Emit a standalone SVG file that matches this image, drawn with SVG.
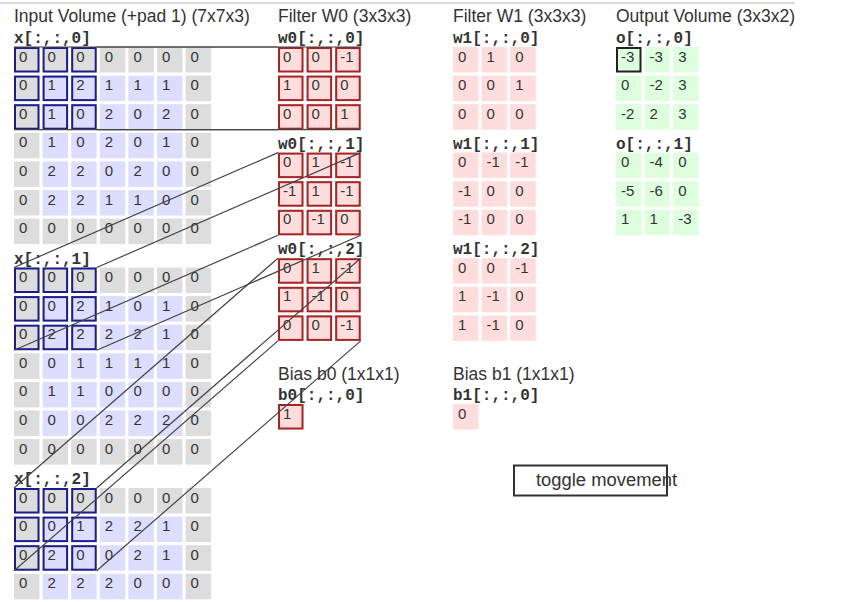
<svg xmlns="http://www.w3.org/2000/svg" width="860" height="602" viewBox="0 0 860 602">
<style>
text{font-family:"Liberation Sans",Arial,sans-serif;fill:#333}
.t{font-size:17.5px}
.l{font-family:"Liberation Mono","Courier New",monospace;font-size:16px;font-weight:bold;fill:#333}
.n{font-size:15px}
.p{fill:#ddd}
.i{fill:#ddf}
.f{fill:#fdd}
.o{fill:#dfd}
.hi{fill:none;stroke:#1c1c8a;stroke-width:2}
.hf{fill:none;stroke:#a52424;stroke-width:2}
.ho{fill:none;stroke:#222;stroke-width:2}
.cn line{stroke:#444;stroke-width:1.2}
</style>
<line x1="0" y1="3" x2="795" y2="3" stroke="#ccc" stroke-width="1.5"/>
<g id="titles">
<text class="t" x="14" y="22">Input Volume (+pad 1) (7x7x3)</text>
<text class="t" x="278" y="22">Filter W0 (3x3x3)</text>
<text class="t" x="453" y="22">Filter W1 (3x3x3)</text>
<text class="t" x="616" y="22">Output Volume (3x3x2)</text>
</g>

<g id="x0">
<text class="l" x="14" y="43">x[:,:,0]</text>
<g transform="translate(0,47)"><rect class="p" x="14" width="25.5" height="25.5"/><rect class="p" x="42.6" width="25.5" height="25.5"/><rect class="p" x="71.2" width="25.5" height="25.5"/><rect class="p" x="99.8" width="25.5" height="25.5"/><rect class="p" x="128.4" width="25.5" height="25.5"/><rect class="p" x="157" width="25.5" height="25.5"/><rect class="p" x="185.6" width="25.5" height="25.5"/>
<text class="n" x="19" y="14.5">0</text><text class="n" x="47.6" y="14.5">0</text><text class="n" x="76.2" y="14.5">0</text><text class="n" x="104.8" y="14.5">0</text><text class="n" x="133.4" y="14.5">0</text><text class="n" x="162" y="14.5">0</text><text class="n" x="190.6" y="14.5">0</text></g>
<g transform="translate(0,75.6)"><rect class="p" x="14" width="25.5" height="25.5"/><rect class="i" x="42.6" width="25.5" height="25.5"/><rect class="i" x="71.2" width="25.5" height="25.5"/><rect class="i" x="99.8" width="25.5" height="25.5"/><rect class="i" x="128.4" width="25.5" height="25.5"/><rect class="i" x="157" width="25.5" height="25.5"/><rect class="p" x="185.6" width="25.5" height="25.5"/>
<text class="n" x="19" y="14.5">0</text><text class="n" x="47.6" y="14.5">1</text><text class="n" x="76.2" y="14.5">2</text><text class="n" x="104.8" y="14.5">1</text><text class="n" x="133.4" y="14.5">1</text><text class="n" x="162" y="14.5">1</text><text class="n" x="190.6" y="14.5">0</text></g>
<g transform="translate(0,104.2)"><rect class="p" x="14" width="25.5" height="25.5"/><rect class="i" x="42.6" width="25.5" height="25.5"/><rect class="i" x="71.2" width="25.5" height="25.5"/><rect class="i" x="99.8" width="25.5" height="25.5"/><rect class="i" x="128.4" width="25.5" height="25.5"/><rect class="i" x="157" width="25.5" height="25.5"/><rect class="p" x="185.6" width="25.5" height="25.5"/>
<text class="n" x="19" y="14.5">0</text><text class="n" x="47.6" y="14.5">1</text><text class="n" x="76.2" y="14.5">0</text><text class="n" x="104.8" y="14.5">2</text><text class="n" x="133.4" y="14.5">0</text><text class="n" x="162" y="14.5">2</text><text class="n" x="190.6" y="14.5">0</text></g>
<g transform="translate(0,132.8)"><rect class="p" x="14" width="25.5" height="25.5"/><rect class="i" x="42.6" width="25.5" height="25.5"/><rect class="i" x="71.2" width="25.5" height="25.5"/><rect class="i" x="99.8" width="25.5" height="25.5"/><rect class="i" x="128.4" width="25.5" height="25.5"/><rect class="i" x="157" width="25.5" height="25.5"/><rect class="p" x="185.6" width="25.5" height="25.5"/>
<text class="n" x="19" y="14.5">0</text><text class="n" x="47.6" y="14.5">1</text><text class="n" x="76.2" y="14.5">0</text><text class="n" x="104.8" y="14.5">2</text><text class="n" x="133.4" y="14.5">0</text><text class="n" x="162" y="14.5">1</text><text class="n" x="190.6" y="14.5">0</text></g>
<g transform="translate(0,161.4)"><rect class="p" x="14" width="25.5" height="25.5"/><rect class="i" x="42.6" width="25.5" height="25.5"/><rect class="i" x="71.2" width="25.5" height="25.5"/><rect class="i" x="99.8" width="25.5" height="25.5"/><rect class="i" x="128.4" width="25.5" height="25.5"/><rect class="i" x="157" width="25.5" height="25.5"/><rect class="p" x="185.6" width="25.5" height="25.5"/>
<text class="n" x="19" y="14.5">0</text><text class="n" x="47.6" y="14.5">2</text><text class="n" x="76.2" y="14.5">2</text><text class="n" x="104.8" y="14.5">0</text><text class="n" x="133.4" y="14.5">2</text><text class="n" x="162" y="14.5">0</text><text class="n" x="190.6" y="14.5">0</text></g>
<g transform="translate(0,190)"><rect class="p" x="14" width="25.5" height="25.5"/><rect class="i" x="42.6" width="25.5" height="25.5"/><rect class="i" x="71.2" width="25.5" height="25.5"/><rect class="i" x="99.8" width="25.5" height="25.5"/><rect class="i" x="128.4" width="25.5" height="25.5"/><rect class="i" x="157" width="25.5" height="25.5"/><rect class="p" x="185.6" width="25.5" height="25.5"/>
<text class="n" x="19" y="14.5">0</text><text class="n" x="47.6" y="14.5">2</text><text class="n" x="76.2" y="14.5">2</text><text class="n" x="104.8" y="14.5">1</text><text class="n" x="133.4" y="14.5">1</text><text class="n" x="162" y="14.5">0</text><text class="n" x="190.6" y="14.5">0</text></g>
<g transform="translate(0,218.6)"><rect class="p" x="14" width="25.5" height="25.5"/><rect class="p" x="42.6" width="25.5" height="25.5"/><rect class="p" x="71.2" width="25.5" height="25.5"/><rect class="p" x="99.8" width="25.5" height="25.5"/><rect class="p" x="128.4" width="25.5" height="25.5"/><rect class="p" x="157" width="25.5" height="25.5"/><rect class="p" x="185.6" width="25.5" height="25.5"/>
<text class="n" x="19" y="14.5">0</text><text class="n" x="47.6" y="14.5">0</text><text class="n" x="76.2" y="14.5">0</text><text class="n" x="104.8" y="14.5">0</text><text class="n" x="133.4" y="14.5">0</text><text class="n" x="162" y="14.5">0</text><text class="n" x="190.6" y="14.5">0</text></g>
<g transform="translate(0,47)"><rect class="hi" x="15" y="1" width="23.5" height="23.5"/><rect class="hi" x="43.6" y="1" width="23.5" height="23.5"/><rect class="hi" x="72.2" y="1" width="23.5" height="23.5"/><rect class="hi" x="15" y="29.6" width="23.5" height="23.5"/><rect class="hi" x="43.6" y="29.6" width="23.5" height="23.5"/><rect class="hi" x="72.2" y="29.6" width="23.5" height="23.5"/><rect class="hi" x="15" y="58.2" width="23.5" height="23.5"/><rect class="hi" x="43.6" y="58.2" width="23.5" height="23.5"/><rect class="hi" x="72.2" y="58.2" width="23.5" height="23.5"/></g>
</g>

<g id="x1">
<text class="l" x="14" y="263.5">x[:,:,1]</text>
<g transform="translate(0,267.5)"><rect class="p" x="14" width="25.5" height="25.5"/><rect class="p" x="42.6" width="25.5" height="25.5"/><rect class="p" x="71.2" width="25.5" height="25.5"/><rect class="p" x="99.8" width="25.5" height="25.5"/><rect class="p" x="128.4" width="25.5" height="25.5"/><rect class="p" x="157" width="25.5" height="25.5"/><rect class="p" x="185.6" width="25.5" height="25.5"/>
<text class="n" x="19" y="14.5">0</text><text class="n" x="47.6" y="14.5">0</text><text class="n" x="76.2" y="14.5">0</text><text class="n" x="104.8" y="14.5">0</text><text class="n" x="133.4" y="14.5">0</text><text class="n" x="162" y="14.5">0</text><text class="n" x="190.6" y="14.5">0</text></g>
<g transform="translate(0,296.1)"><rect class="p" x="14" width="25.5" height="25.5"/><rect class="i" x="42.6" width="25.5" height="25.5"/><rect class="i" x="71.2" width="25.5" height="25.5"/><rect class="i" x="99.8" width="25.5" height="25.5"/><rect class="i" x="128.4" width="25.5" height="25.5"/><rect class="i" x="157" width="25.5" height="25.5"/><rect class="p" x="185.6" width="25.5" height="25.5"/>
<text class="n" x="19" y="14.5">0</text><text class="n" x="47.6" y="14.5">0</text><text class="n" x="76.2" y="14.5">2</text><text class="n" x="104.8" y="14.5">1</text><text class="n" x="133.4" y="14.5">0</text><text class="n" x="162" y="14.5">1</text><text class="n" x="190.6" y="14.5">0</text></g>
<g transform="translate(0,324.7)"><rect class="p" x="14" width="25.5" height="25.5"/><rect class="i" x="42.6" width="25.5" height="25.5"/><rect class="i" x="71.2" width="25.5" height="25.5"/><rect class="i" x="99.8" width="25.5" height="25.5"/><rect class="i" x="128.4" width="25.5" height="25.5"/><rect class="i" x="157" width="25.5" height="25.5"/><rect class="p" x="185.6" width="25.5" height="25.5"/>
<text class="n" x="19" y="14.5">0</text><text class="n" x="47.6" y="14.5">2</text><text class="n" x="76.2" y="14.5">2</text><text class="n" x="104.8" y="14.5">2</text><text class="n" x="133.4" y="14.5">2</text><text class="n" x="162" y="14.5">1</text><text class="n" x="190.6" y="14.5">0</text></g>
<g transform="translate(0,353.3)"><rect class="p" x="14" width="25.5" height="25.5"/><rect class="i" x="42.6" width="25.5" height="25.5"/><rect class="i" x="71.2" width="25.5" height="25.5"/><rect class="i" x="99.8" width="25.5" height="25.5"/><rect class="i" x="128.4" width="25.5" height="25.5"/><rect class="i" x="157" width="25.5" height="25.5"/><rect class="p" x="185.6" width="25.5" height="25.5"/>
<text class="n" x="19" y="14.5">0</text><text class="n" x="47.6" y="14.5">0</text><text class="n" x="76.2" y="14.5">1</text><text class="n" x="104.8" y="14.5">1</text><text class="n" x="133.4" y="14.5">1</text><text class="n" x="162" y="14.5">1</text><text class="n" x="190.6" y="14.5">0</text></g>
<g transform="translate(0,381.9)"><rect class="p" x="14" width="25.5" height="25.5"/><rect class="i" x="42.6" width="25.5" height="25.5"/><rect class="i" x="71.2" width="25.5" height="25.5"/><rect class="i" x="99.8" width="25.5" height="25.5"/><rect class="i" x="128.4" width="25.5" height="25.5"/><rect class="i" x="157" width="25.5" height="25.5"/><rect class="p" x="185.6" width="25.5" height="25.5"/>
<text class="n" x="19" y="14.5">0</text><text class="n" x="47.6" y="14.5">1</text><text class="n" x="76.2" y="14.5">1</text><text class="n" x="104.8" y="14.5">0</text><text class="n" x="133.4" y="14.5">0</text><text class="n" x="162" y="14.5">0</text><text class="n" x="190.6" y="14.5">0</text></g>
<g transform="translate(0,410.5)"><rect class="p" x="14" width="25.5" height="25.5"/><rect class="i" x="42.6" width="25.5" height="25.5"/><rect class="i" x="71.2" width="25.5" height="25.5"/><rect class="i" x="99.8" width="25.5" height="25.5"/><rect class="i" x="128.4" width="25.5" height="25.5"/><rect class="i" x="157" width="25.5" height="25.5"/><rect class="p" x="185.6" width="25.5" height="25.5"/>
<text class="n" x="19" y="14.5">0</text><text class="n" x="47.6" y="14.5">0</text><text class="n" x="76.2" y="14.5">0</text><text class="n" x="104.8" y="14.5">2</text><text class="n" x="133.4" y="14.5">2</text><text class="n" x="162" y="14.5">2</text><text class="n" x="190.6" y="14.5">0</text></g>
<g transform="translate(0,439.1)"><rect class="p" x="14" width="25.5" height="25.5"/><rect class="p" x="42.6" width="25.5" height="25.5"/><rect class="p" x="71.2" width="25.5" height="25.5"/><rect class="p" x="99.8" width="25.5" height="25.5"/><rect class="p" x="128.4" width="25.5" height="25.5"/><rect class="p" x="157" width="25.5" height="25.5"/><rect class="p" x="185.6" width="25.5" height="25.5"/>
<text class="n" x="19" y="14.5">0</text><text class="n" x="47.6" y="14.5">0</text><text class="n" x="76.2" y="14.5">0</text><text class="n" x="104.8" y="14.5">0</text><text class="n" x="133.4" y="14.5">0</text><text class="n" x="162" y="14.5">0</text><text class="n" x="190.6" y="14.5">0</text></g>
<g transform="translate(0,267.5)"><rect class="hi" x="15" y="1" width="23.5" height="23.5"/><rect class="hi" x="43.6" y="1" width="23.5" height="23.5"/><rect class="hi" x="72.2" y="1" width="23.5" height="23.5"/><rect class="hi" x="15" y="29.6" width="23.5" height="23.5"/><rect class="hi" x="43.6" y="29.6" width="23.5" height="23.5"/><rect class="hi" x="72.2" y="29.6" width="23.5" height="23.5"/><rect class="hi" x="15" y="58.2" width="23.5" height="23.5"/><rect class="hi" x="43.6" y="58.2" width="23.5" height="23.5"/><rect class="hi" x="72.2" y="58.2" width="23.5" height="23.5"/></g>
</g>

<g id="x2">
<text class="l" x="14" y="484">x[:,:,2]</text>
<g transform="translate(0,488)"><rect class="p" x="14" width="25.5" height="25.5"/><rect class="p" x="42.6" width="25.5" height="25.5"/><rect class="p" x="71.2" width="25.5" height="25.5"/><rect class="p" x="99.8" width="25.5" height="25.5"/><rect class="p" x="128.4" width="25.5" height="25.5"/><rect class="p" x="157" width="25.5" height="25.5"/><rect class="p" x="185.6" width="25.5" height="25.5"/>
<text class="n" x="19" y="14.5">0</text><text class="n" x="47.6" y="14.5">0</text><text class="n" x="76.2" y="14.5">0</text><text class="n" x="104.8" y="14.5">0</text><text class="n" x="133.4" y="14.5">0</text><text class="n" x="162" y="14.5">0</text><text class="n" x="190.6" y="14.5">0</text></g>
<g transform="translate(0,516.6)"><rect class="p" x="14" width="25.5" height="25.5"/><rect class="i" x="42.6" width="25.5" height="25.5"/><rect class="i" x="71.2" width="25.5" height="25.5"/><rect class="i" x="99.8" width="25.5" height="25.5"/><rect class="i" x="128.4" width="25.5" height="25.5"/><rect class="i" x="157" width="25.5" height="25.5"/><rect class="p" x="185.6" width="25.5" height="25.5"/>
<text class="n" x="19" y="14.5">0</text><text class="n" x="47.6" y="14.5">0</text><text class="n" x="76.2" y="14.5">1</text><text class="n" x="104.8" y="14.5">2</text><text class="n" x="133.4" y="14.5">2</text><text class="n" x="162" y="14.5">1</text><text class="n" x="190.6" y="14.5">0</text></g>
<g transform="translate(0,545.2)"><rect class="p" x="14" width="25.5" height="25.5"/><rect class="i" x="42.6" width="25.5" height="25.5"/><rect class="i" x="71.2" width="25.5" height="25.5"/><rect class="i" x="99.8" width="25.5" height="25.5"/><rect class="i" x="128.4" width="25.5" height="25.5"/><rect class="i" x="157" width="25.5" height="25.5"/><rect class="p" x="185.6" width="25.5" height="25.5"/>
<text class="n" x="19" y="14.5">0</text><text class="n" x="47.6" y="14.5">2</text><text class="n" x="76.2" y="14.5">0</text><text class="n" x="104.8" y="14.5">0</text><text class="n" x="133.4" y="14.5">2</text><text class="n" x="162" y="14.5">1</text><text class="n" x="190.6" y="14.5">0</text></g>
<g transform="translate(0,573.8)"><rect class="p" x="14" width="25.5" height="25.5"/><rect class="i" x="42.6" width="25.5" height="25.5"/><rect class="i" x="71.2" width="25.5" height="25.5"/><rect class="i" x="99.8" width="25.5" height="25.5"/><rect class="i" x="128.4" width="25.5" height="25.5"/><rect class="i" x="157" width="25.5" height="25.5"/><rect class="p" x="185.6" width="25.5" height="25.5"/>
<text class="n" x="19" y="14.5">0</text><text class="n" x="47.6" y="14.5">2</text><text class="n" x="76.2" y="14.5">2</text><text class="n" x="104.8" y="14.5">2</text><text class="n" x="133.4" y="14.5">0</text><text class="n" x="162" y="14.5">0</text><text class="n" x="190.6" y="14.5">0</text></g>
<g transform="translate(0,488)"><rect class="hi" x="15" y="1" width="23.5" height="23.5"/><rect class="hi" x="43.6" y="1" width="23.5" height="23.5"/><rect class="hi" x="72.2" y="1" width="23.5" height="23.5"/><rect class="hi" x="15" y="29.6" width="23.5" height="23.5"/><rect class="hi" x="43.6" y="29.6" width="23.5" height="23.5"/><rect class="hi" x="72.2" y="29.6" width="23.5" height="23.5"/><rect class="hi" x="15" y="58.2" width="23.5" height="23.5"/><rect class="hi" x="43.6" y="58.2" width="23.5" height="23.5"/><rect class="hi" x="72.2" y="58.2" width="23.5" height="23.5"/></g>
</g>

<g id="w0">
<text class="l" x="278" y="43">w0[:,:,0]</text>
<g transform="translate(278,47)"><rect class="f" x="0" y="0" width="25.5" height="25.5"/><rect class="f" x="28.6" y="0" width="25.5" height="25.5"/><rect class="f" x="57.2" y="0" width="25.5" height="25.5"/><rect class="f" x="0" y="28.6" width="25.5" height="25.5"/><rect class="f" x="28.6" y="28.6" width="25.5" height="25.5"/><rect class="f" x="57.2" y="28.6" width="25.5" height="25.5"/><rect class="f" x="0" y="57.2" width="25.5" height="25.5"/><rect class="f" x="28.6" y="57.2" width="25.5" height="25.5"/><rect class="f" x="57.2" y="57.2" width="25.5" height="25.5"/>
<rect class="hf" x="1" y="1" width="23.5" height="23.5"/><rect class="hf" x="29.6" y="1" width="23.5" height="23.5"/><rect class="hf" x="58.2" y="1" width="23.5" height="23.5"/><rect class="hf" x="1" y="29.6" width="23.5" height="23.5"/><rect class="hf" x="29.6" y="29.6" width="23.5" height="23.5"/><rect class="hf" x="58.2" y="29.6" width="23.5" height="23.5"/><rect class="hf" x="1" y="58.2" width="23.5" height="23.5"/><rect class="hf" x="29.6" y="58.2" width="23.5" height="23.5"/><rect class="hf" x="58.2" y="58.2" width="23.5" height="23.5"/>
<text class="n" x="5" y="14.5">0</text><text class="n" x="33.6" y="14.5">0</text><text class="n" x="62.2" y="14.5">-1</text>
<text class="n" x="5" y="43.1">1</text><text class="n" x="33.6" y="43.1">0</text><text class="n" x="62.2" y="43.1">0</text>
<text class="n" x="5" y="71.7">0</text><text class="n" x="33.6" y="71.7">0</text><text class="n" x="62.2" y="71.7">1</text></g>
<text class="l" x="278" y="148.6">w0[:,:,1]</text>
<g transform="translate(278,152.6)"><rect class="f" x="0" y="0" width="25.5" height="25.5"/><rect class="f" x="28.6" y="0" width="25.5" height="25.5"/><rect class="f" x="57.2" y="0" width="25.5" height="25.5"/><rect class="f" x="0" y="28.6" width="25.5" height="25.5"/><rect class="f" x="28.6" y="28.6" width="25.5" height="25.5"/><rect class="f" x="57.2" y="28.6" width="25.5" height="25.5"/><rect class="f" x="0" y="57.2" width="25.5" height="25.5"/><rect class="f" x="28.6" y="57.2" width="25.5" height="25.5"/><rect class="f" x="57.2" y="57.2" width="25.5" height="25.5"/>
<rect class="hf" x="1" y="1" width="23.5" height="23.5"/><rect class="hf" x="29.6" y="1" width="23.5" height="23.5"/><rect class="hf" x="58.2" y="1" width="23.5" height="23.5"/><rect class="hf" x="1" y="29.6" width="23.5" height="23.5"/><rect class="hf" x="29.6" y="29.6" width="23.5" height="23.5"/><rect class="hf" x="58.2" y="29.6" width="23.5" height="23.5"/><rect class="hf" x="1" y="58.2" width="23.5" height="23.5"/><rect class="hf" x="29.6" y="58.2" width="23.5" height="23.5"/><rect class="hf" x="58.2" y="58.2" width="23.5" height="23.5"/>
<text class="n" x="5" y="14.5">0</text><text class="n" x="33.6" y="14.5">1</text><text class="n" x="62.2" y="14.5">-1</text>
<text class="n" x="5" y="43.1">-1</text><text class="n" x="33.6" y="43.1">1</text><text class="n" x="62.2" y="43.1">-1</text>
<text class="n" x="5" y="71.7">0</text><text class="n" x="33.6" y="71.7">-1</text><text class="n" x="62.2" y="71.7">0</text></g>
<text class="l" x="278" y="254.2">w0[:,:,2]</text>
<g transform="translate(278,258.2)"><rect class="f" x="0" y="0" width="25.5" height="25.5"/><rect class="f" x="28.6" y="0" width="25.5" height="25.5"/><rect class="f" x="57.2" y="0" width="25.5" height="25.5"/><rect class="f" x="0" y="28.6" width="25.5" height="25.5"/><rect class="f" x="28.6" y="28.6" width="25.5" height="25.5"/><rect class="f" x="57.2" y="28.6" width="25.5" height="25.5"/><rect class="f" x="0" y="57.2" width="25.5" height="25.5"/><rect class="f" x="28.6" y="57.2" width="25.5" height="25.5"/><rect class="f" x="57.2" y="57.2" width="25.5" height="25.5"/>
<rect class="hf" x="1" y="1" width="23.5" height="23.5"/><rect class="hf" x="29.6" y="1" width="23.5" height="23.5"/><rect class="hf" x="58.2" y="1" width="23.5" height="23.5"/><rect class="hf" x="1" y="29.6" width="23.5" height="23.5"/><rect class="hf" x="29.6" y="29.6" width="23.5" height="23.5"/><rect class="hf" x="58.2" y="29.6" width="23.5" height="23.5"/><rect class="hf" x="1" y="58.2" width="23.5" height="23.5"/><rect class="hf" x="29.6" y="58.2" width="23.5" height="23.5"/><rect class="hf" x="58.2" y="58.2" width="23.5" height="23.5"/>
<text class="n" x="5" y="14.5">0</text><text class="n" x="33.6" y="14.5">1</text><text class="n" x="62.2" y="14.5">-1</text>
<text class="n" x="5" y="43.1">1</text><text class="n" x="33.6" y="43.1">-1</text><text class="n" x="62.2" y="43.1">0</text>
<text class="n" x="5" y="71.7">0</text><text class="n" x="33.6" y="71.7">0</text><text class="n" x="62.2" y="71.7">-1</text></g>
</g>

<g id="b0">
<text class="t" x="278" y="380">Bias b0 (1x1x1)</text>
<text class="l" x="278" y="400">b0[:,:,0]</text>
<rect class="f" x="278" y="404" width="25.5" height="25.5"/><rect class="hf" x="279" y="405" width="23.5" height="23.5"/>
<text class="n" x="283" y="418.5">1</text>
</g>

<g id="w1">
<text class="l" x="453" y="43">w1[:,:,0]</text>
<g transform="translate(453,47)"><rect class="f" x="0" y="0" width="25.5" height="25.5"/><rect class="f" x="28.6" y="0" width="25.5" height="25.5"/><rect class="f" x="57.2" y="0" width="25.5" height="25.5"/><rect class="f" x="0" y="28.6" width="25.5" height="25.5"/><rect class="f" x="28.6" y="28.6" width="25.5" height="25.5"/><rect class="f" x="57.2" y="28.6" width="25.5" height="25.5"/><rect class="f" x="0" y="57.2" width="25.5" height="25.5"/><rect class="f" x="28.6" y="57.2" width="25.5" height="25.5"/><rect class="f" x="57.2" y="57.2" width="25.5" height="25.5"/>
<text class="n" x="5" y="14.5">0</text><text class="n" x="33.6" y="14.5">1</text><text class="n" x="62.2" y="14.5">0</text>
<text class="n" x="5" y="43.1">0</text><text class="n" x="33.6" y="43.1">0</text><text class="n" x="62.2" y="43.1">1</text>
<text class="n" x="5" y="71.7">0</text><text class="n" x="33.6" y="71.7">0</text><text class="n" x="62.2" y="71.7">0</text></g>
<text class="l" x="453" y="148.6">w1[:,:,1]</text>
<g transform="translate(453,152.6)"><rect class="f" x="0" y="0" width="25.5" height="25.5"/><rect class="f" x="28.6" y="0" width="25.5" height="25.5"/><rect class="f" x="57.2" y="0" width="25.5" height="25.5"/><rect class="f" x="0" y="28.6" width="25.5" height="25.5"/><rect class="f" x="28.6" y="28.6" width="25.5" height="25.5"/><rect class="f" x="57.2" y="28.6" width="25.5" height="25.5"/><rect class="f" x="0" y="57.2" width="25.5" height="25.5"/><rect class="f" x="28.6" y="57.2" width="25.5" height="25.5"/><rect class="f" x="57.2" y="57.2" width="25.5" height="25.5"/>
<text class="n" x="5" y="14.5">0</text><text class="n" x="33.6" y="14.5">-1</text><text class="n" x="62.2" y="14.5">-1</text>
<text class="n" x="5" y="43.1">-1</text><text class="n" x="33.6" y="43.1">0</text><text class="n" x="62.2" y="43.1">0</text>
<text class="n" x="5" y="71.7">-1</text><text class="n" x="33.6" y="71.7">0</text><text class="n" x="62.2" y="71.7">0</text></g>
<text class="l" x="453" y="254.2">w1[:,:,2]</text>
<g transform="translate(453,258.2)"><rect class="f" x="0" y="0" width="25.5" height="25.5"/><rect class="f" x="28.6" y="0" width="25.5" height="25.5"/><rect class="f" x="57.2" y="0" width="25.5" height="25.5"/><rect class="f" x="0" y="28.6" width="25.5" height="25.5"/><rect class="f" x="28.6" y="28.6" width="25.5" height="25.5"/><rect class="f" x="57.2" y="28.6" width="25.5" height="25.5"/><rect class="f" x="0" y="57.2" width="25.5" height="25.5"/><rect class="f" x="28.6" y="57.2" width="25.5" height="25.5"/><rect class="f" x="57.2" y="57.2" width="25.5" height="25.5"/>
<text class="n" x="5" y="14.5">0</text><text class="n" x="33.6" y="14.5">0</text><text class="n" x="62.2" y="14.5">-1</text>
<text class="n" x="5" y="43.1">1</text><text class="n" x="33.6" y="43.1">-1</text><text class="n" x="62.2" y="43.1">0</text>
<text class="n" x="5" y="71.7">1</text><text class="n" x="33.6" y="71.7">-1</text><text class="n" x="62.2" y="71.7">0</text></g>
</g>

<g id="b1">
<text class="t" x="453" y="380">Bias b1 (1x1x1)</text>
<text class="l" x="453" y="400">b1[:,:,0]</text>
<rect class="f" x="453" y="404" width="25.5" height="25.5"/>
<text class="n" x="458" y="418.5">0</text>
</g>

<g id="out">
<text class="l" x="616" y="43">o[:,:,0]</text>
<g transform="translate(616,47)"><rect class="o" x="0" y="0" width="25.5" height="25.5"/><rect class="o" x="28.6" y="0" width="25.5" height="25.5"/><rect class="o" x="57.2" y="0" width="25.5" height="25.5"/><rect class="o" x="0" y="28.6" width="25.5" height="25.5"/><rect class="o" x="28.6" y="28.6" width="25.5" height="25.5"/><rect class="o" x="57.2" y="28.6" width="25.5" height="25.5"/><rect class="o" x="0" y="57.2" width="25.5" height="25.5"/><rect class="o" x="28.6" y="57.2" width="25.5" height="25.5"/><rect class="o" x="57.2" y="57.2" width="25.5" height="25.5"/>
<rect class="ho" x="1" y="1" width="23.5" height="23.5"/>
<text class="n" x="5" y="14.5">-3</text><text class="n" x="33.6" y="14.5">-3</text><text class="n" x="62.2" y="14.5">3</text>
<text class="n" x="5" y="43.1">0</text><text class="n" x="33.6" y="43.1">-2</text><text class="n" x="62.2" y="43.1">3</text>
<text class="n" x="5" y="71.7">-2</text><text class="n" x="33.6" y="71.7">2</text><text class="n" x="62.2" y="71.7">3</text></g>
<text class="l" x="616" y="148.6">o[:,:,1]</text>
<g transform="translate(616,152.6)"><rect class="o" x="0" y="0" width="25.5" height="25.5"/><rect class="o" x="28.6" y="0" width="25.5" height="25.5"/><rect class="o" x="57.2" y="0" width="25.5" height="25.5"/><rect class="o" x="0" y="28.6" width="25.5" height="25.5"/><rect class="o" x="28.6" y="28.6" width="25.5" height="25.5"/><rect class="o" x="57.2" y="28.6" width="25.5" height="25.5"/><rect class="o" x="0" y="57.2" width="25.5" height="25.5"/><rect class="o" x="28.6" y="57.2" width="25.5" height="25.5"/><rect class="o" x="57.2" y="57.2" width="25.5" height="25.5"/>
<text class="n" x="5" y="14.5">0</text><text class="n" x="33.6" y="14.5">-4</text><text class="n" x="62.2" y="14.5">0</text>
<text class="n" x="5" y="43.1">-5</text><text class="n" x="33.6" y="43.1">-6</text><text class="n" x="62.2" y="43.1">0</text>
<text class="n" x="5" y="71.7">1</text><text class="n" x="33.6" y="71.7">1</text><text class="n" x="62.2" y="71.7">-3</text></g>
</g>

<g id="toggle">
<rect x="514" y="465.5" width="153" height="30" fill="#fff" stroke="#333" stroke-width="2"/>
<text x="536" y="485.5" font-size="18" textLength="141" lengthAdjust="spacingAndGlyphs">toggle movement</text>
</g>

<g id="connectors" class="cn">
<line x1="14" y1="47" x2="278" y2="47"/><line x1="96.7" y1="47" x2="360.7" y2="47"/>
<line x1="14" y1="129.7" x2="278" y2="129.7"/><line x1="96.7" y1="129.7" x2="360.7" y2="129.7"/>
<line x1="14" y1="267.5" x2="278" y2="152.6"/><line x1="96.7" y1="267.5" x2="360.7" y2="152.6"/>
<line x1="14" y1="350.2" x2="278" y2="235.3"/><line x1="96.7" y1="350.2" x2="360.7" y2="235.3"/>
<line x1="14" y1="488" x2="278" y2="258.2"/><line x1="96.7" y1="488" x2="360.7" y2="258.2"/>
<line x1="14" y1="570.7" x2="278" y2="340.9"/><line x1="96.7" y1="570.7" x2="360.7" y2="340.9"/>
</g>
</svg>
